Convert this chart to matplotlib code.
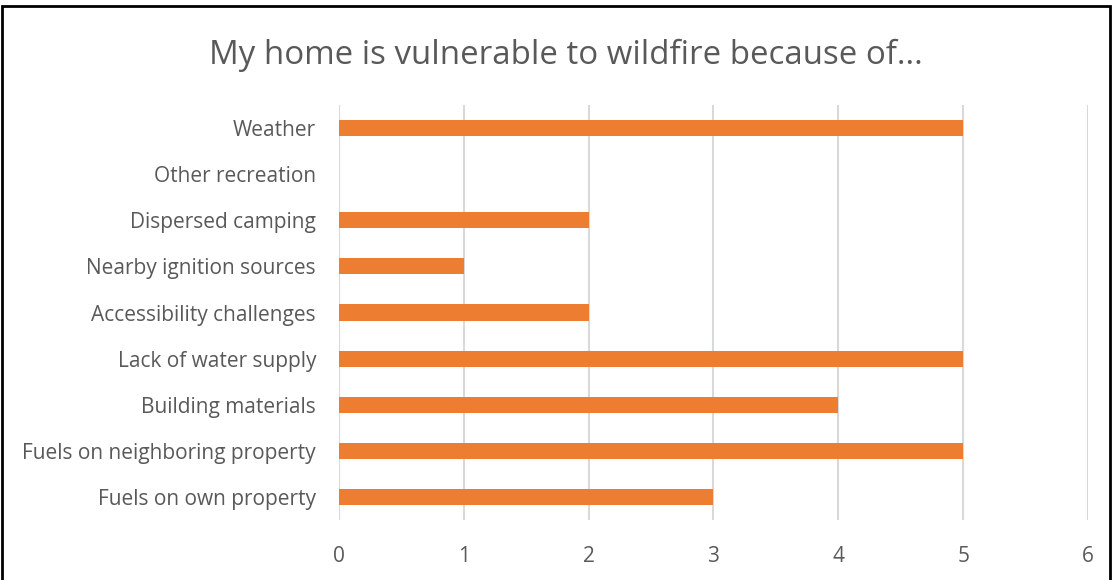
import matplotlib
matplotlib.use('Agg')
import matplotlib.pyplot as plt
from matplotlib.patches import Rectangle

# data, bottom to top as drawn
categories = ['Fuels on own property', 'Fuels on neighboring property', 'Building materials',
              'Lack of water supply', 'Accessibility challenges', 'Nearby ignition sources',
              'Dispersed camping', 'Other recreation', 'Weather']
counts = [3, 5, 4, 5, 2, 1, 2, 0, 5]
xticks = [0, 1, 2, 3, 4, 5, 6]

plt.rcParams['font.family'] = ['Open Sans', 'DejaVu Sans']
txt = '#595959'

fig = plt.figure(figsize=(11.13, 5.8), dpi=100)
ax = fig.add_axes([0.3046, 0.1034, 0.6729, 0.7156])

ax.barh(range(len(categories)), counts, height=0.35, color='#ED7D31', zorder=3)
ax.set_yticks(range(len(categories)))
ax.set_yticklabels(categories, fontsize=15, color=txt)
ax.set_xticks(xticks)
ax.set_xticklabels([str(t) for t in xticks], fontsize=15, color=txt)
ax.set_xlim(0, 6)
ax.set_ylim(-0.5, len(categories) - 0.5)
ax.grid(axis='x', color='#D9D9D9', linewidth=1.5, zorder=0)
for s in ax.spines.values():
    s.set_visible(False)
ax.tick_params(length=0)
ax.tick_params(axis='y', pad=16.5)
ax.tick_params(axis='x', pad=19)

fig.text(0.508, 0.905, 'My home is vulnerable to wildfire because of...', ha='center', va='center',
         fontsize=23.8, color=txt)

# outer frame
fig.patches.append(Rectangle((0.002, -0.05), 0.995, 1.04, transform=fig.transFigure,
                             fill=False, edgecolor='black', linewidth=2))

plt.savefig('out.png', dpi=100)
